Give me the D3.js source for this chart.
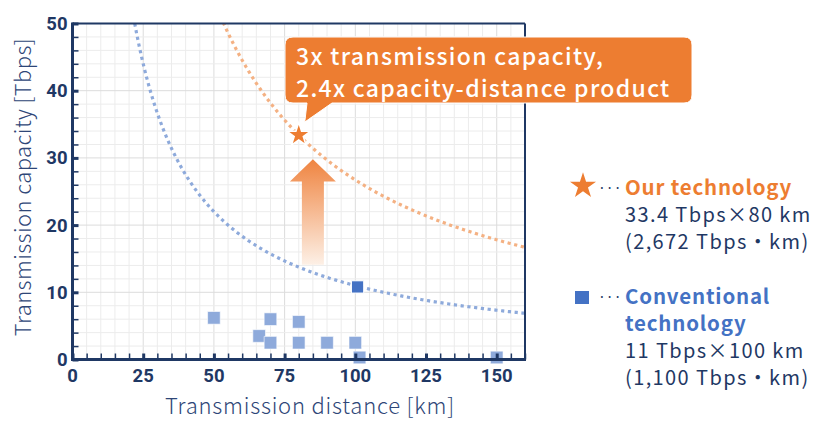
<!DOCTYPE html>
<html>
<head>
<meta charset="utf-8">
<script src="https://cdn.jsdelivr.net/npm/d3@7"></script>
<style>
  body { margin: 0; background: #fff; }
  svg { display: block; }
</style>
</head>
<body>
<div id="chart"></div>
<script>
// --- data ---
const xTicks = [0, 25, 50, 75, 100, 125, 150];
const yTicks = [0, 10, 20, 30, 40, 50];

// conventional results (distance km, capacity Tbps)
const convDistance = [50, 66, 70, 70, 80, 80, 90, 100, 101.5, 150];
const convCapacity = [6.2, 3.5, 6.0, 2.5, 5.6, 2.5, 2.5, 2.5, 0.3, 0.3];

// best conventional and our result
const bestConv = [100.8, 10.8];
const ourTech = [80, 33.4];

// capacity-distance products used for the dotted guide curves
const guideProducts = [1100, 2672];
const guideColors = ["#8eaadb", "#f4b183"];

const calloutLines = ["3x transmission capacity,", "2.4x capacity-distance product"];
const legendOurTitle = ["Our technology"];
const legendOurText = ["33.4 Tbps\u00d780 km", "(2,672 Tbps\u30fbkm)"];
const legendConvTitle = ["Conventional", "technology"];
const legendConvText = ["11 Tbps\u00d7100 km", "(1,100 Tbps\u30fbkm)"];

const width = 828, height = 435;
const navy = "#1f3864";
const orange = "#ed7d31";
const blue = "#4472c4";
const jp = "'Noto Sans CJK JP', sans-serif";

const svg = d3.select("#chart").append("svg")
    .attr("width", width)
    .attr("height", height);

const x = d3.scaleLinear().domain([0, 160]).range([72.5, 525]);
const y = d3.scaleLinear().domain([0, 50]).range([359.5, 23.5]);

const defs = svg.append("defs");
defs.append("clipPath").attr("id", "plotClip")
  .append("rect")
    .attr("x", x(0)).attr("y", y(50))
    .attr("width", x(160) - x(0)).attr("height", y(0) - y(50));

const grad = defs.append("linearGradient")
    .attr("id", "arrowGrad")
    .attr("x1", 0).attr("y1", 0).attr("x2", 0).attr("y2", 1);
grad.append("stop").attr("offset", "0%").attr("stop-color", "#ef8440");
grad.append("stop").attr("offset", "100%").attr("stop-color", "#fdf0e6");

// grid
const grid = svg.append("g");
grid.selectAll(".vg")
  .data(d3.range(5, 160, 5))
  .enter().append("line")
    .attr("x1", d => x(d)).attr("x2", d => x(d))
    .attr("y1", y(0)).attr("y2", y(50))
    .attr("stroke", d => d % 25 === 0 ? "#dcdcdc" : "#ececec")
    .attr("stroke-width", 1);
grid.selectAll(".hg")
  .data(d3.range(2, 50, 2))
  .enter().append("line")
    .attr("y1", d => y(d)).attr("y2", d => y(d))
    .attr("x1", x(0)).attr("x2", x(160))
    .attr("stroke", d => d % 10 === 0 ? "#dcdcdc" : "#ececec")
    .attr("stroke-width", 1);

// dotted guide curves y = k / x
const plot = svg.append("g").attr("clip-path", "url(#plotClip)");
const line = d3.line().x(d => x(d[0])).y(d => y(d[1]));
guideProducts.forEach((k, i) => {
  const pts = d3.range(k / 52, 160.5, 0.5).map(d => [d, k / d]);
  plot.append("path")
      .attr("d", line(pts))
      .attr("fill", "none")
      .attr("stroke", guideColors[i])
      .attr("stroke-width", 3.2)
      .attr("stroke-dasharray", "3.2 3.6");
});

// arrow (from about 14 to 30 Tbps at 85 km)
const ax = x(85), aTop = y(29.8), aHead = y(26.5), aBot = y(14.1);
svg.append("path")
    .attr("d", `M${ax},${aTop} L${ax + 23},${aHead} L${ax + 11},${aHead} L${ax + 11},${aBot}
                L${ax - 11},${aBot} L${ax - 11},${aHead} L${ax - 23},${aHead} Z`)
    .attr("fill", "url(#arrowGrad)");

// frame
svg.append("line").attr("x1", x(0)).attr("x2", x(160)).attr("y1", y(50)).attr("y2", y(50))
    .attr("stroke", navy).attr("stroke-width", 2);
svg.append("line").attr("x1", x(160)).attr("x2", x(160)).attr("y1", y(50)).attr("y2", y(0))
    .attr("stroke", navy).attr("stroke-width", 2);

// conventional points
const convData = convDistance.map((d, i) => [d, convCapacity[i]]);
svg.selectAll(".conv")
  .data(convData)
  .enter().append("path")
    .attr("d", d3.symbol(d3.symbolSquare, 160))
    .attr("transform", d => `translate(${x(d[0])},${y(d[1])})`)
    .attr("fill", "#8eaadb")
    .attr("stroke", "#fff")
    .attr("stroke-width", 0.6);

svg.append("path")
    .attr("d", d3.symbol(d3.symbolSquare, 150))
    .attr("transform", `translate(${x(bestConv[0])},${y(bestConv[1])})`)
    .attr("fill", blue)
    .attr("stroke", "#fff")
    .attr("stroke-width", 1);

// axes (ticks pointing inward)
const xAxis = svg.append("g").attr("transform", `translate(0,${y(0)})`);
xAxis.call(d3.axisTop(x).tickValues(d3.range(0, 161, 5)).tickSize(6).tickFormat(""));
const yAxis = svg.append("g").attr("transform", `translate(${x(0)},0)`);
yAxis.call(d3.axisRight(y).tickValues(d3.range(0, 51, 2)).tickSize(6).tickFormat(""));
[xAxis, yAxis].forEach(g => {
  g.select(".domain").remove();
  g.selectAll(".tick line").attr("stroke", navy).attr("stroke-width", 1.5);
});
xAxis.selectAll(".tick line").filter(d => d % 25 === 0).attr("stroke-width", 3);
yAxis.selectAll(".tick line").filter(d => d % 10 === 0).attr("stroke-width", 3);

svg.append("line").attr("x1", x(0) - 1.5).attr("x2", x(160) + 1).attr("y1", y(0)).attr("y2", y(0))
    .attr("stroke", navy).attr("stroke-width", 3);
svg.append("line").attr("x1", x(0)).attr("x2", x(0)).attr("y1", y(50) - 1).attr("y2", y(0) + 1.5)
    .attr("stroke", navy).attr("stroke-width", 3);

// tick labels
svg.selectAll(".xl")
  .data(xTicks)
  .enter().append("text")
    .attr("x", d => x(d))
    .attr("y", y(0) + 22)
    .attr("text-anchor", "middle")
    .attr("font-family", "Roboto, sans-serif")
    .attr("font-weight", "bold")
    .attr("font-size", 18.5)
    .attr("fill", navy)
    .text(d => d);
svg.selectAll(".yl")
  .data(yTicks)
  .enter().append("text")
    .attr("x", x(0) - 5)
    .attr("y", d => y(d) + 6.5)
    .attr("text-anchor", "end")
    .attr("font-family", "Roboto, sans-serif")
    .attr("font-weight", "bold")
    .attr("font-size", 18.5)
    .attr("fill", navy)
    .text(d => d);

// axis titles
svg.append("text")
    .attr("x", 310)
    .attr("y", 414)
    .attr("text-anchor", "middle")
    .attr("font-family", jp)
    .attr("font-weight", 300)
    .attr("font-size", 22)
    .attr("letter-spacing", 0.8)
    .attr("fill", "#2e4677")
    .text("Transmission distance [km]");
svg.append("text")
    .attr("transform", "translate(31,187) rotate(-90)")
    .attr("text-anchor", "middle")
    .attr("font-family", jp)
    .attr("font-weight", 300)
    .attr("font-size", 22)
    .attr("letter-spacing", 0.4)
    .attr("fill", "#2e4677")
    .text("Transmission capacity [Tbps]");

// our technology star
svg.append("path")
    .attr("d", d3.symbol(d3.symbolStar, 175))
    .attr("transform", `translate(${x(ourTech[0])},${y(ourTech[1])})`)
    .attr("fill", orange)
    .attr("stroke", "#fff")
    .attr("stroke-width", 1.5);

// callout box
const bx = 285, by = 37, bw = 407, bh = 66, r = 8;
const tipX = x(ourTech[0]) + 6, tipY = y(ourTech[1]) - 13;
svg.append("path")
    .attr("d", `M${bx + r},${by} H${bx + bw - r} Q${bx + bw},${by} ${bx + bw},${by + r}
                V${by + bh - r} Q${bx + bw},${by + bh} ${bx + bw - r},${by + bh}
                H332 L${tipX},${tipY} L307,${by + bh}
                H${bx + r} Q${bx},${by + bh} ${bx},${by + bh - r}
                V${by + r} Q${bx},${by} ${bx + r},${by} Z`)
    .attr("fill", orange)
    .attr("stroke", "#fff")
    .attr("stroke-width", 1);
svg.append("text")
    .attr("font-family", jp)
    .attr("font-weight", 500)
    .attr("font-size", 23)
    .attr("letter-spacing", 1.3)
    .attr("fill", "#fff")
  .selectAll("tspan")
  .data(calloutLines)
  .enter().append("tspan")
    .attr("x", 296)
    .attr("y", (d, i) => 65 + i * 32)
    .text(d => d);

// legend: marker, dots, a bold title block and a plain text block
const lx = 625;
const legendBlock = (titles, texts, color, top) => {
  svg.append("text")
      .attr("font-family", jp)
      .attr("font-weight", "bold")
      .attr("font-size", 20.5)
      .attr("letter-spacing", 0.8)
      .attr("fill", color)
    .selectAll("tspan")
    .data(titles)
    .enter().append("tspan")
      .attr("x", lx)
      .attr("y", (d, i) => top + i * 27.5)
      .text(d => d);
  const textTop = top + (titles.length - 1) * 27.5 + 26.5;
  svg.append("text")
      .attr("font-family", jp)
      .attr("font-size", 20)
      .attr("letter-spacing", 1.4)
      .attr("fill", navy)
    .selectAll("tspan")
    .data(texts)
    .enter().append("tspan")
      .attr("x", lx)
      .attr("y", (d, i) => textTop + i * 27.5)
      .text(d => d);
  svg.append("text").attr("x", 598).attr("y", top - 2)
      .attr("font-family", jp).attr("font-size", 14)
      .attr("fill", navy).text("\u00b7\u00b7\u00b7");
};

svg.append("path")
    .attr("d", d3.symbol(d3.symbolStar, 210))
    .attr("transform", "translate(583,186)")
    .attr("fill", orange);
legendBlock(legendOurTitle, legendOurText, orange, 195);

svg.append("rect")
    .attr("x", 575).attr("y", 291).attr("width", 14).attr("height", 13)
    .attr("fill", blue);
legendBlock(legendConvTitle, legendConvText, blue, 303.5);
</script>
</body>
</html>
